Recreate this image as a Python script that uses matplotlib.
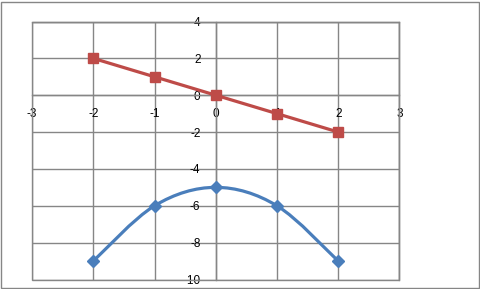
import matplotlib
matplotlib.use("Agg")
import matplotlib.pyplot as plt
from matplotlib.path import Path
from matplotlib.patches import PathPatch, Rectangle

x_vals = [-2, -1, 0, 1, 2]
parabola = [-9, -6, -5, -6, -9]
linea = [2, 1, 0, -1, -2]
x_ticks = [-3, -2, -1, 0, 1, 2, 3]
y_ticks = [-10, -8, -6, -4, -2, 0, 2, 4]

AZUL = "#4A7EBB"
ROJO = "#BE4B48"
GRIS = "#868686"

plt.rcParams["axes.unicode_minus"] = False


def curva_suave(xs, ys):
    # bezier tipo Excel: puntos de control a 1/6 de la tangente
    pts = list(zip(xs, ys))
    verts = [pts[0]]
    codes = [Path.MOVETO]
    n = len(pts)
    for i in range(n - 1):
        p0 = pts[i - 1] if i > 0 else pts[i]
        p1 = pts[i]
        p2 = pts[i + 1]
        p3 = pts[i + 2] if i + 2 < n else pts[i + 1]
        c1 = (p1[0] + (p2[0] - p0[0]) / 6, p1[1] + (p2[1] - p0[1]) / 6)
        c2 = (p2[0] - (p3[0] - p1[0]) / 6, p2[1] - (p3[1] - p1[1]) / 6)
        verts += [c1, c2, p2]
        codes += [Path.CURVE4] * 3
    return Path(verts, codes)


fig = plt.figure(figsize=(4.81, 2.89), dpi=100)
ax = fig.add_axes([32 / 481, 1 - 279.5 / 289, 367.5 / 481, 258 / 289])

ax.set_xlim(-3, 3)
ax.set_ylim(-10, 4)
ax.set_xticks(x_ticks)
ax.set_yticks(y_ticks)
ax.grid(True, color=GRIS, linewidth=1)
ax.set_axisbelow(True)

for lado in ["top", "right", "left", "bottom"]:
    ax.spines[lado].set_color(GRIS)
    ax.spines[lado].set_linewidth(1)
ax.spines["left"].set_position(("data", 0))
ax.spines["bottom"].set_position(("data", 0))
ax.add_patch(Rectangle((0, 0), 1, 1, transform=ax.transAxes, fill=False,
                       edgecolor=GRIS, linewidth=1, clip_on=False))

ax.tick_params(length=0, labelsize=8.5)
ax.tick_params(axis="x", pad=9)
ax.tick_params(axis="y", pad=11)
for lbl in ax.get_xticklabels() + ax.get_yticklabels():
    lbl.set_fontfamily("Liberation Sans")

ax.add_patch(PathPatch(curva_suave(x_vals, parabola), fill=False,
                       edgecolor=AZUL, linewidth=2.3, zorder=3))
ax.plot(x_vals, parabola, linestyle="none", marker="D", markersize=6,
        color=AZUL, zorder=4)
ax.plot(x_vals, linea, color=ROJO, linewidth=2.3, marker="s",
        markersize=7, zorder=4)

# marco exterior del grafico
fig.add_artist(Rectangle((1 / 481, 1 / 289), 478 / 481, 286 / 289,
                         transform=fig.transFigure, fill=False,
                         edgecolor=GRIS, linewidth=1))

fig.savefig("out.png", dpi=100)
